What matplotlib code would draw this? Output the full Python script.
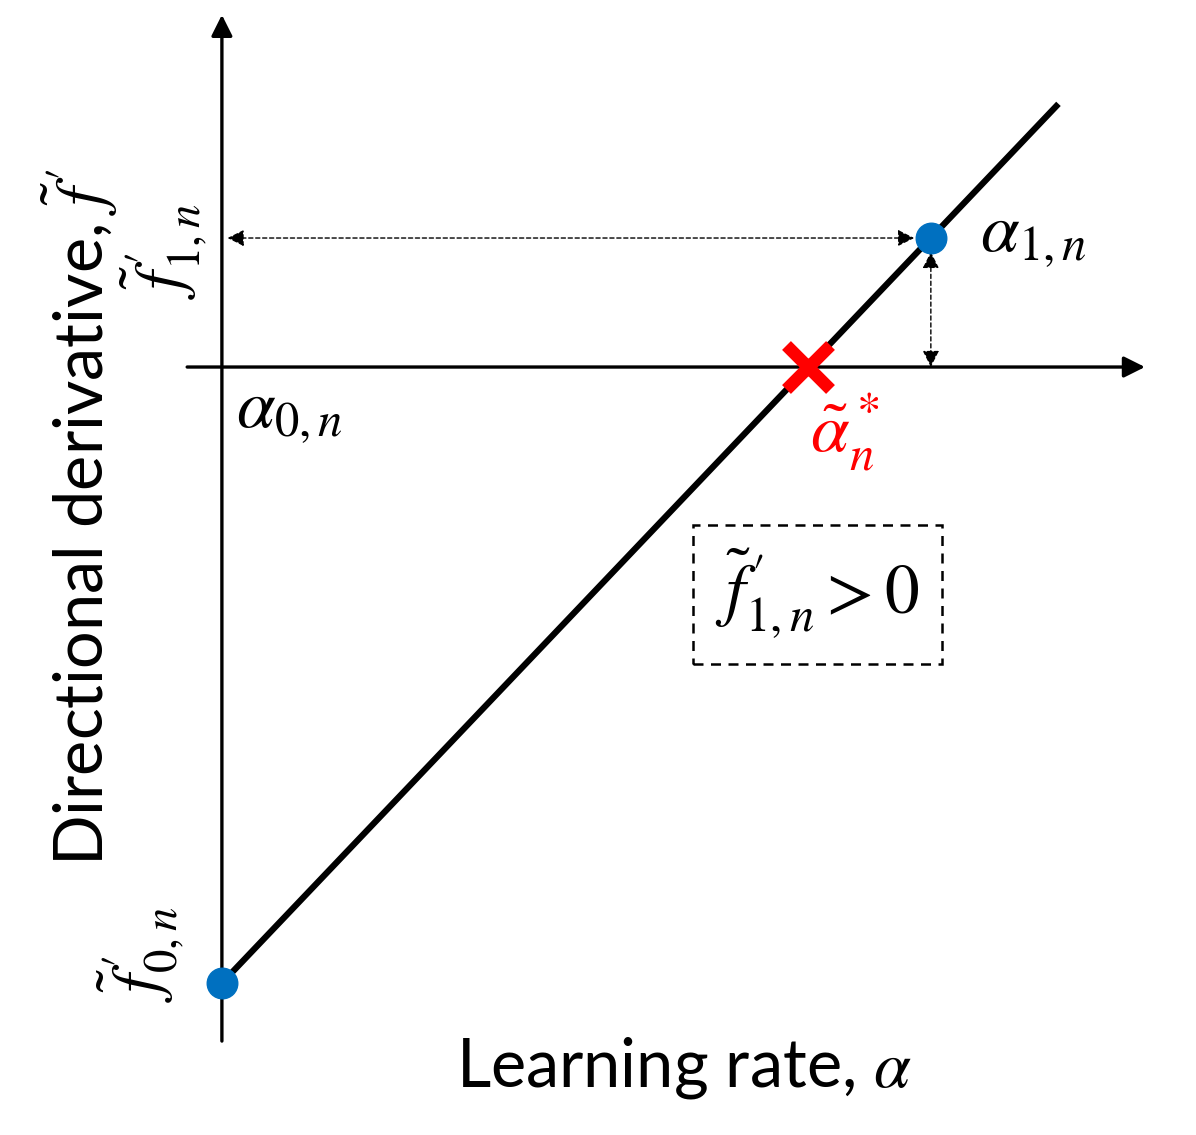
import matplotlib.pyplot as plt

plt.rcParams['font.family'] = ['Lato', 'DejaVu Sans']
plt.rcParams['mathtext.fontset'] = 'stix'

# learning rate (alpha) and directional derivative (f') at the two probe points
alpha_pts = [0.0, 1.0]
fprime_pts = [-4.775, 1.0]
# the secant line, drawn a bit past the second point
line_alpha = [0.0, 1.18]
line_fprime = [-4.775, 2.04]
# root estimate
alpha_star = 0.827

fig = plt.figure(figsize=(11.96, 11.35), dpi=100)
ax = fig.add_axes([0, 0, 1, 1])
ax.set_xlim(-0.313, 1.374)
ax.set_ylim(-5.953, 2.845)
ax.axis('off')

# coordinate axes with arrow heads
ax.annotate('', xy=(1.302, 0), xytext=(-0.049, 0),
            arrowprops=dict(arrowstyle='-|>', lw=2.4, color='black', mutation_scale=32,
                            shrinkA=0, shrinkB=0))
ax.annotate('', xy=(0, 2.73), xytext=(0, -5.225),
            arrowprops=dict(arrowstyle='-|>', lw=2.4, color='black', mutation_scale=32,
                            shrinkA=0, shrinkB=0))

# secant line
ax.plot(line_alpha, line_fprime, color='black', lw=4.5, solid_capstyle='butt', zorder=3)

# dashed guides
ax.annotate('', xy=(0.008, fprime_pts[1]), xytext=(alpha_pts[1], fprime_pts[1]),
            arrowprops=dict(arrowstyle='<|-|>', lw=1.0, ls=(0, (3, 2)), color='black',
                            mutation_scale=25, shrinkA=12, shrinkB=0))
ax.annotate('', xy=(alpha_pts[1], 0), xytext=(alpha_pts[1], fprime_pts[1]),
            arrowprops=dict(arrowstyle='<|-|>', lw=1.0, ls=(0, (3, 2)), color='black',
                            mutation_scale=25, shrinkA=10, shrinkB=0))

# points
ax.plot(alpha_pts, fprime_pts, 'o', color='#0070C0', markersize=22, zorder=5, clip_on=False)
ax.plot([alpha_star], [0], 'x', color='#FF0000', markersize=32, mew=9, zorder=6)

f1 = r"$\tilde{f}^{\,\prime}_{1,n}$"
f0 = r"$\tilde{f}^{\,\prime}_{0,n}$"

# labels
ax.text(0.02, -0.12, r'$\alpha_{0,n}$', fontsize=50, ha='left', va='top')
ax.text(1.07, 1.0, r'$\alpha_{1,n}$', fontsize=50, ha='left', va='center')
ax.text(0.83, -0.19, r'$\tilde{\alpha}_n^*$', fontsize=50, ha='left', va='top', color='#FF0000')
ax.text(-0.018, 0.9, f1, fontsize=48, ha='right', va='center', rotation=90)
ax.text(-0.05, -4.55, f0, fontsize=48, ha='right', va='center', rotation=90)

ax.text(0.84, -1.76, f1[:-1] + r" > 0$", fontsize=50, ha='center', va='center',
        bbox=dict(boxstyle='square,pad=0.32', fc='white', ec='black', lw=1.8, ls=(0, (4, 3))))

ax.text(0.652, -5.434, r'Learning rate, $\alpha$', fontsize=48, ha='center', va='center')
ax.text(-0.2, -1.163, r"Directional derivative, $\tilde{f}^{\,\prime}$", fontsize=48,
        ha='center', va='center', rotation=90)

plt.savefig('out.png')
